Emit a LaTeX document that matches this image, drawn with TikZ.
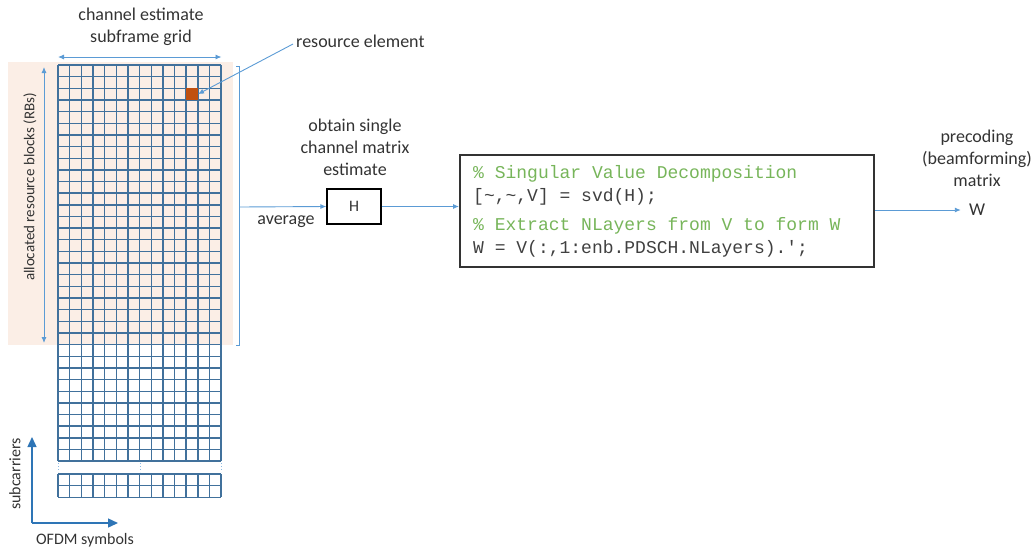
\documentclass[tikz,border=0pt]{standalone}
\usepackage{fontspec}
\setmainfont{Carlito}
\setmonofont{Liberation Mono}
\usetikzlibrary{arrows.meta,positioning}

\definecolor{gridblue}{HTML}{41719C}
\definecolor{lineblue}{HTML}{5B9BD5}
\definecolor{axisblue}{HTML}{2E75B6}
\definecolor{rbshade}{HTML}{FBEEE6}
\definecolor{rebrown}{HTML}{C0500F}
\definecolor{codegreen}{HTML}{77B55A}
\definecolor{labelgray}{HTML}{333333}

\tikzset{
  gridline/.style={gridblue,line width=1.4pt},
  flow/.style={lineblue,line width=.9pt,-{Latex[length=6pt,width=5pt]}},
  span/.style={lineblue,line width=.9pt,{Latex[length=6pt,width=5pt]}-{Latex[length=6pt,width=5pt]}},
  axis/.style={axisblue,line width=1.4pt,-{Triangle[length=10pt,width=9pt]}},
  lbl/.style={text=labelgray,font=\fontsize{18}{22}\selectfont,align=center,inner sep=0pt},
}

\begin{document}
\begin{tikzpicture}[x=1pt,y=-1pt]
\useasboundingbox (0,0) rectangle (1034,550);
% allocated RBs
\fill[rbshade] (8,62) rectangle (233,345);
% subframe grid, 14 symbols
\def\cw{11.65}
\foreach \i in {0,...,14}
  \draw[gridline] ({58+\i*\cw},65) -- ++(0,{34*\cw});
\foreach \j in {0,...,34}
  \draw[gridline] (58,{65+\j*\cw}) -- ++({14*\cw},0);
\foreach \i in {0,...,14}
  \draw[gridline] ({58+\i*\cw},474) -- ++(0,{2*\cw});
\foreach \j in {0,1,2}
  \draw[gridline] (58,{474+\j*\cw}) -- ++({14*\cw},0);
\foreach \x in {58.6,140.2,221.7}
  \draw[lineblue!70,line width=1pt,dotted] (\x,463) -- (\x,472);
\node[fill=rebrown,minimum size=\cw pt,inner sep=0pt] (re) at ({58+11.5*\cw},{65+2.5*\cw}) {};

% labels round the grid
\node[lbl] (gridtitle) at (141,27) {channel estimate\\subframe grid};
\coordinate (gl) at (58,57);
\coordinate (gr) at (221.5,57);
\draw[span] (gl) -- (gr);
\node[lbl,anchor=west] (relabel) at (296,41) {resource element};
\draw[flow] (relabel.west) ++(-3,3) -- (re.east);
\coordinate (rbtop) at (44,67);
\coordinate (rbbot) at (44,343);
\draw[span] (rbtop) -- (rbbot);
\node[lbl,rotate=90,font=\fontsize{15}{18}\selectfont] (rblabel) at (30,187) {allocated resource blocks (RBs)};

% bracket and averaging
\draw[lineblue,line width=.9pt] (236,66) -- (239.5,66) -- (239.5,345) -- (236,345);
\coordinate (avg) at (239.5,207);
\node[draw,line width=1.3pt,minimum width=54pt,minimum height=35pt,
  font=\fontsize{16}{19}\selectfont,text=labelgray] (H) at (354,206.5) {H};
\draw[flow] (avg) -- (H.west);
\node[lbl] (avglabel) at (286,222) {average};
\node[lbl] (hlabel) at (355,147) {obtain single\\channel matrix\\estimate};

% SVD code
\node[draw=black!80,line width=1.8pt,minimum width=414pt,minimum height=112pt,
  anchor=north west] (svd) at (459,154) {};
\node[anchor=west,align=left,inner sep=0pt,
  font=\ttfamily\fontsize{18}{23}\selectfont,text=black!75] (svdcode) at ([xshift=14pt]svd.west)
  {\textcolor{codegreen}{\% Singular Value Decomposition}\\
   {[}\textasciitilde,\textasciitilde,V] = svd(H);\\[6pt]
   \textcolor{codegreen}{\% Extract NLayers from V to form W}\\
   W = V(:,1:enb.PDSCH.NLayers).';};
\draw[flow] (H.east) -- (H.east -| svd.west);
\node[lbl] (W) at (977,210) {W};
\draw[flow,shorten >=8pt] (svd.east |- W) -- (W.west);
\node[lbl] (wlabel) at (977,158) {precoding\\(beamforming)\\matrix};

% axes
\coordinate (origin) at (32,523);
\draw[axis] (origin) -- ++(0,-86);
\draw[axis] (origin) -- ++(86,0);
\node[lbl,rotate=90,font=\fontsize{16}{19}\selectfont] (sclabel) at (15,474) {subcarriers};
\node[lbl,font=\fontsize{16}{19}\selectfont] (symlabel) at (85,540) {OFDM symbols};
\end{tikzpicture}
\end{document}
